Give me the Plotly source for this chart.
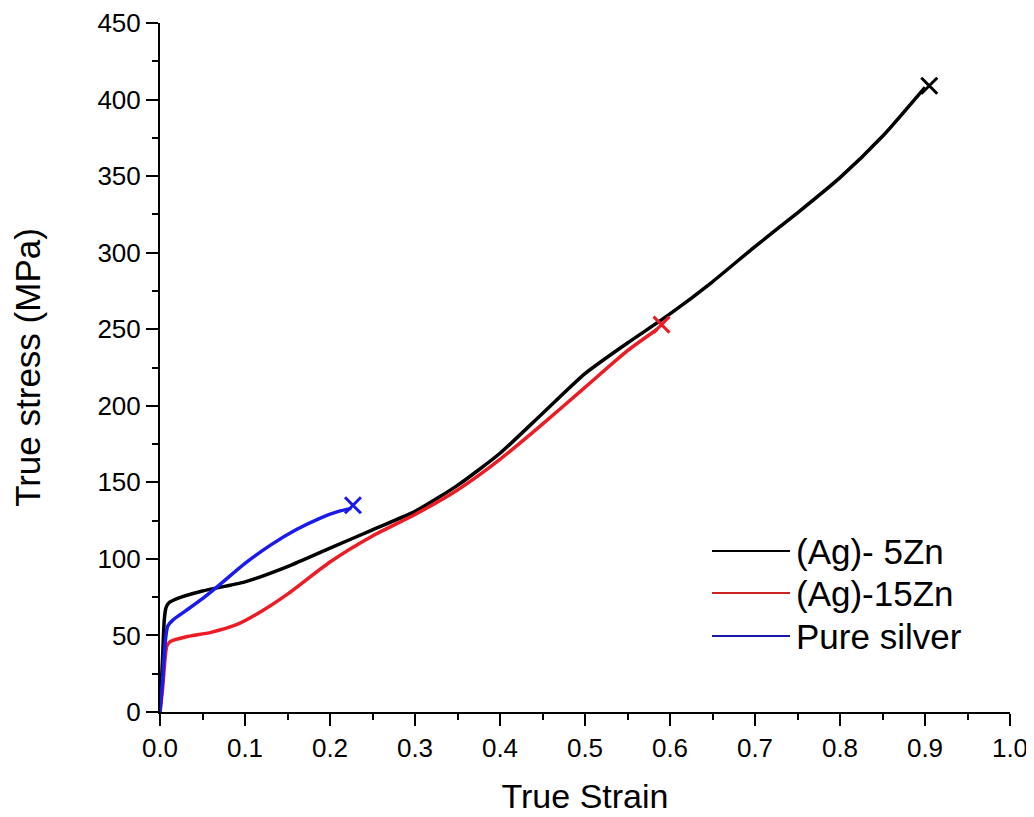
import plotly.graph_objects as go

# Data
strain_5zn = [0, 0.003, 0.005, 0.007, 0.01, 0.02, 0.05, 0.1, 0.15, 0.2, 0.25, 0.3, 0.35, 0.4,
              0.45, 0.5, 0.55, 0.6, 0.65, 0.7, 0.75, 0.8, 0.85, 0.9]
stress_5zn = [0, 35, 60, 68, 71, 74, 79, 85, 95, 107, 119, 131, 148, 169,
              195, 221, 241, 260, 281, 304, 326, 349, 376, 408]

strain_15zn = [0, 0.003, 0.006, 0.008, 0.012, 0.03, 0.06, 0.09, 0.12, 0.15, 0.2, 0.25, 0.3,
               0.35, 0.4, 0.45, 0.5, 0.55, 0.585]
stress_15zn = [0, 15, 35, 43, 46, 49, 52, 57, 66, 77, 98, 115, 129,
               145, 165, 188, 212, 236, 250]

strain_pure = [0, 0.003, 0.006, 0.009, 0.015, 0.03, 0.05, 0.07, 0.1, 0.13, 0.16, 0.19, 0.21, 0.225]
stress_pure = [0, 20, 45, 56, 60, 66, 74, 83, 97, 109, 119, 127, 131, 133]

fracture_strain = [0.905, 0.59, 0.227]
fracture_stress = [409, 253, 135]

names = ["(Ag)- 5Zn", "(Ag)-15Zn", "Pure silver"]
colors = ["#000000", "#ec1c24", "#1a1aee"]
legend_colors = ["#000000", "#cc2222", "#1a1aaa"]

FONT = "Liberation Sans, Arial, sans-serif"

fig = go.Figure()
series = [(strain_5zn, stress_5zn), (strain_15zn, stress_15zn), (strain_pure, stress_pure)]
for (xs, ys), name, c in zip(series, names, colors):
    fig.add_trace(go.Scatter(x=xs, y=ys, mode="lines", name=name,
                             line=dict(color=c, width=3.5, shape="spline", smoothing=0.6),
                             showlegend=False))

for xv, yv, c in zip(fracture_strain, fracture_stress, colors):
    fig.add_trace(go.Scatter(x=[xv], y=[yv], mode="markers", showlegend=False,
                             marker=dict(symbol="x-thin", size=16, line=dict(color=c, width=3))))

# Manual legend (long sample lines as in the reference)
TOP_PX = 23
shapes = []
annotations = []
legend_y_px = [551, 593, 636]
for ypx, name, c in zip(legend_y_px, names, legend_colors):
    yp = (712 - ypx) / (712 - TOP_PX)
    x0 = (712 - 160) / 850
    x1 = (790 - 160) / 850
    shapes.append(dict(type="line", xref="paper", yref="paper", x0=x0, x1=x1, y0=yp, y1=yp,
                       line=dict(color=c, width=1.8)))
    annotations.append(dict(xref="paper", yref="paper", x=(794 - 160) / 850, y=yp, text=name,
                            showarrow=False, xanchor="left", yanchor="middle",
                            font=dict(size=35, color="black", family=FONT)))

fig.update_layout(
    width=1026, height=809,
    margin=dict(l=152, r=24, t=15, b=105),
    paper_bgcolor="white", plot_bgcolor="white",
    font=dict(family=FONT, color="black"),
    shapes=shapes, annotations=annotations,
    showlegend=False,
)
fig.update_xaxes(range=[0, 1.0], dtick=0.1, tickformat=".1f", showgrid=False, zeroline=False,
                 automargin=False, ticklabeloverflow="allow",
                 showline=True, linecolor="black", linewidth=2,
                 ticks="outside", ticklen=12, tickwidth=2, tickcolor="black",
                 minor=dict(ticks="outside", ticklen=6, tickwidth=2, tickcolor="black", dtick=0.05),
                 tickfont=dict(size=26, family=FONT),
                 title=dict(text="True Strain", font=dict(size=34, family=FONT), standoff=22))
fig.update_yaxes(range=[0, 450], dtick=50, showgrid=False, zeroline=False,
                 automargin=False, ticklabeloverflow="allow",
                 showline=True, linecolor="black", linewidth=2,
                 ticks="outside", ticklen=12, tickwidth=2, tickcolor="black",
                 minor=dict(ticks="outside", ticklen=6, tickwidth=2, tickcolor="black", dtick=25),
                 tickfont=dict(size=26, family=FONT),
                 title=dict(text="True stress (MPa)", font=dict(size=35, family=FONT), standoff=50))

fig.write_html("out.html")
